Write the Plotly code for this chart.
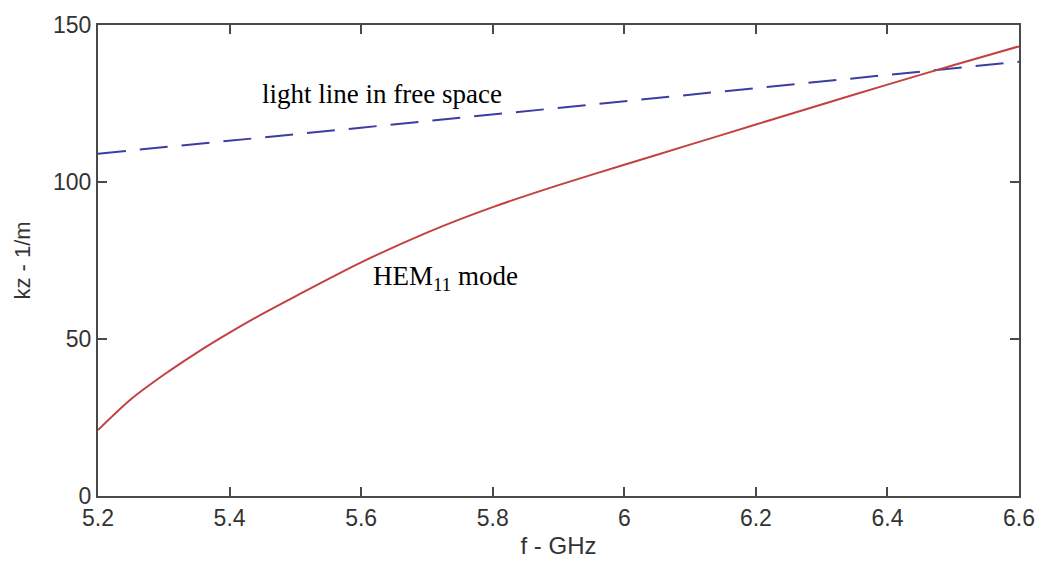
import plotly.graph_objects as go

# HEM11 mode dispersion curve
f_hem = [5.20, 5.25, 5.30, 5.35, 5.40, 5.45, 5.50, 5.60, 5.70, 5.80,
         5.90, 6.00, 6.10, 6.20, 6.30, 6.40, 6.50, 6.60]
k_hem = [21.0, 30.8, 38.6, 45.6, 52.0, 58.0, 63.6, 74.4, 83.9, 92.0,
         99.0, 105.5, 111.9, 118.3, 124.7, 131.0, 137.2, 143.2]

# light line in free space
f_light = [5.2, 5.3, 5.4, 5.5, 5.6, 5.7, 5.8, 5.9, 6.0, 6.1, 6.2, 6.3, 6.4, 6.5, 6.6]
k_light = [109.0, 111.0, 113.1, 115.2, 117.3, 119.4, 121.5, 123.6, 125.7, 127.8,
           129.9, 132.0, 134.0, 136.1, 138.3]

x_ticks = [5.2, 5.4, 5.6, 5.8, 6.0, 6.2, 6.4, 6.6]
x_tick_labels = ["5.2", "5.4", "5.6", "5.8", "6", "6.2", "6.4", "6.6"]
y_ticks = [0, 50, 100, 150]

fig = go.Figure()
fig.add_trace(go.Scatter(x=f_light, y=k_light, mode="lines",
                         line=dict(color="rgb(60,60,165)", width=2, dash="28px,14px"),
                         showlegend=False))
fig.add_trace(go.Scatter(x=f_hem, y=k_hem, mode="lines", line_shape="spline",
                         line=dict(color="rgb(195,65,65)", width=2, smoothing=0.8),
                         showlegend=False))

axis_common = dict(showgrid=False, zeroline=False, showline=True, linecolor="#4a4a4a",
                   linewidth=2, mirror="ticks", ticks="inside", ticklen=9,
                   tickwidth=2, tickcolor="#4a4a4a",
                   tickfont=dict(family="Liberation Sans, Arial", size=23, color="#333"))

fig.update_xaxes(range=[5.2, 6.6], tickvals=x_ticks, ticktext=x_tick_labels,
                 title=dict(text="f - GHz", font=dict(family="Liberation Sans, Arial",
                                                     size=24, color="#333"), standoff=8),
                 **axis_common)
fig.update_yaxes(range=[0, 150], tickvals=y_ticks,
                 title=dict(text="kz - 1/m", font=dict(family="Liberation Sans, Arial",
                                                      size=22, color="#333"), standoff=16),
                 **axis_common)

fig.add_annotation(x=5.631, y=128.0, text="light line in free space", showarrow=False,
                   font=dict(family="Liberation Serif, Times New Roman", size=27, color="black"))
fig.add_annotation(x=5.728, y=69.3, text="HEM<sub>11</sub> mode", showarrow=False,
                   font=dict(family="Liberation Serif, Times New Roman", size=27, color="black"))

fig.update_layout(width=1047, height=569, margin=dict(l=98, r=24, t=18, b=73),
                  plot_bgcolor="white", paper_bgcolor="white")

fig.write_html("out.html")
